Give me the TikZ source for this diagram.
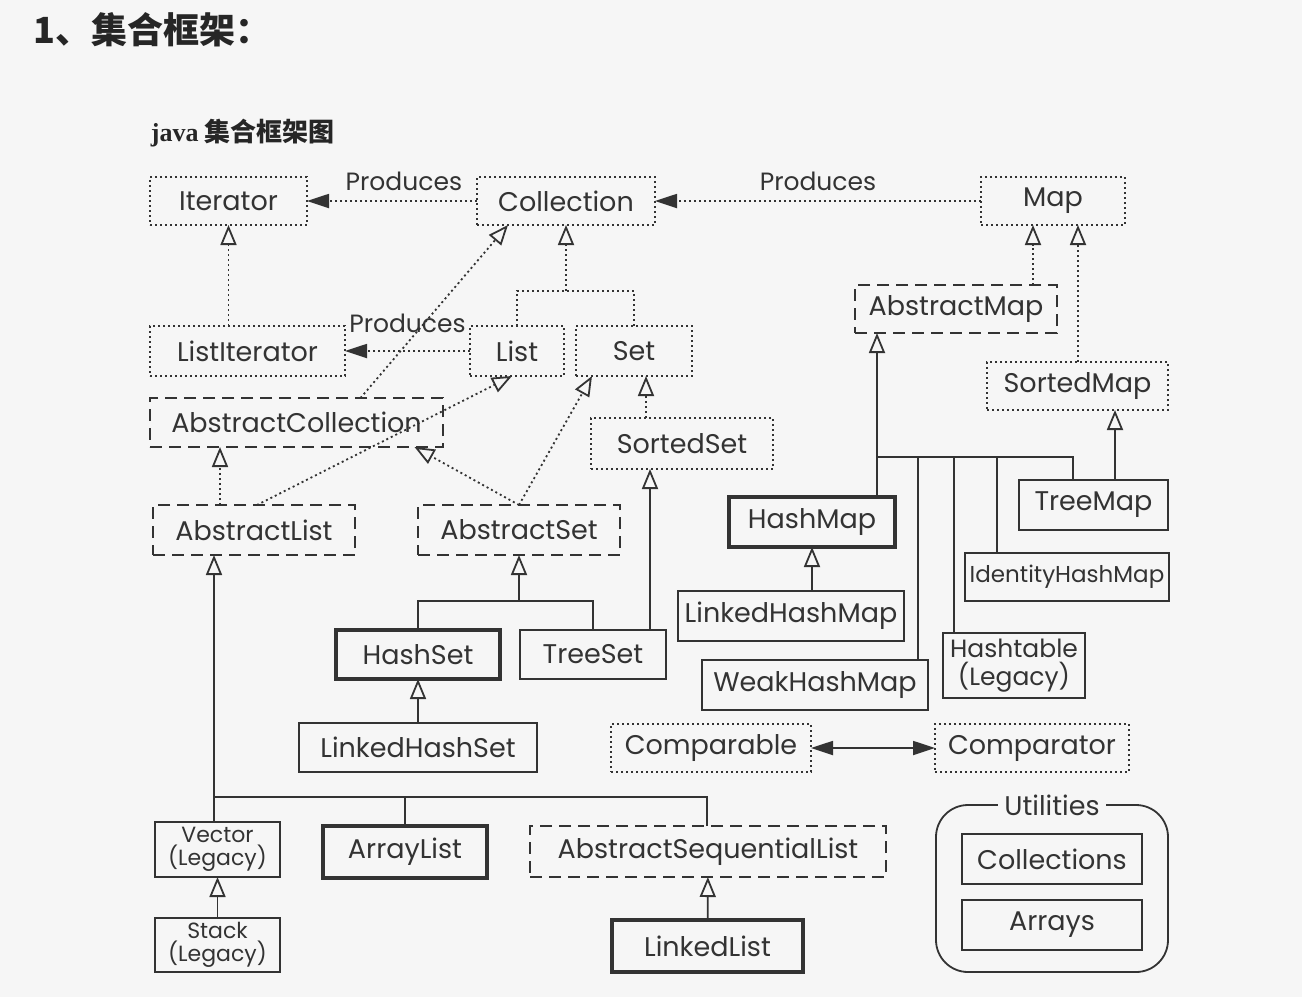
\documentclass[tikz,border=0pt]{standalone}
\usepackage{fontspec}
\setmainfont{Poppins}
\newfontfamily\cjkfont{Noto Sans CJK SC}
\newfontfamily\latinserif{Liberation Serif}
\usetikzlibrary{arrows.meta}
\definecolor{pagebg}{HTML}{F6F6F6}
\definecolor{ink}{HTML}{333333}

\tikzset{
  wh/.style 2 args={minimum width=#1pt, minimum height=#2pt},
  box/.style={draw=ink, text=ink, line width=1.8pt, inner sep=0pt, outer sep=0pt,
    font=\fontsize{27}{30}\selectfont, align=center},
  iface/.style={box, dash pattern=on 2pt off 3pt},
  abstr/.style={box, dash pattern=on 12pt off 7pt},
  concrete/.style={box},
  core/.style={box, line width=4.5pt},
  dots/.style={dash pattern=on 2pt off 3pt},
  inherits/.style={-{Triangle[open,length=20pt,width=16pt,line width=1.8pt]}},
  produces/.style={-{Triangle[length=22pt,width=14pt]}},
  pair/.style={{Triangle[length=22pt,width=14pt]}-{Triangle[length=22pt,width=14pt]}},
  lbl/.style={text=ink, font=\fontsize{25}{28}\selectfont, inner sep=0pt},
  legacy/.style={font=\fontsize{22}{23}\selectfont},
}

\begin{document}
\begin{tikzpicture}[x=1pt,y=-1pt,color=ink,line width=1.8pt]
  \fill[pagebg] (0,0) rectangle (1302,997);
  \useasboundingbox (0,0) rectangle (1302,997);

  \node[anchor=west,inner sep=0pt,text=black!85,
    font=\cjkfont\bfseries\fontsize{36}{40}\selectfont] (heading) at (33,30) {1、集合框架：};
  \node[anchor=west,inner sep=0pt,text=black!85,
    font=\cjkfont\bfseries\fontsize{26}{30}\selectfont] (caption) at (150,133)
    {{\latinserif\bfseries java} 集合框架图};

  % interfaces and classes
  \node[iface,wh={157}{48}] (iterator) at (228.5,201) {Iterator};
  \node[iface,wh={178}{48}] (collection) at (566,201) {Collection};
  \node[iface,wh={144}{48}] (map) at (1053,201) {Map};
  \node[iface,wh={195}{50}] (listiter) at (247.5,351) {ListIterator};
  \node[iface,wh={94}{50}] (list) at (517,351) {List};
  \node[iface,wh={116}{50}] (set) at (634,351) {Set};
  \node[abstr,wh={293}{49}] (abscoll) at (296.5,422.5) {AbstractCollection};
  \node[iface,wh={182}{51}] (sortedset) at (682,443.5) {SortedSet};
  \node[abstr,wh={202}{48}] (absmap) at (956,309) {AbstractMap};
  \node[iface,wh={181}{48}] (sortedmap) at (1077.5,386) {SortedMap};
  \node[abstr,wh={202}{50}] (abslist) at (254,530) {AbstractList};
  \node[abstr,wh={202}{50}] (absset) at (519,530) {AbstractSet};
  \node[core,wh={164}{49}] (hashset) at (418,654.5) {HashSet};
  \node[concrete,wh={146}{49}] (treeset) at (593,654.5) {TreeSet};
  \node[concrete,wh={238}{49}] (lhashset) at (418,747.5) {LinkedHashSet};
  \node[core,wh={166}{50}] (hashmap) at (812,522) {HashMap};
  \node[concrete,wh={149}{50}] (treemap) at (1093.5,505) {TreeMap};
  \node[concrete,wh={204}{48},font=\fontsize{23}{26}\selectfont] (idmap) at (1067,577) {IdentityHashMap};
  \node[concrete,wh={226}{50}] (lhashmap) at (791,616) {LinkedHashMap};
  \node[concrete,wh={226}{50}] (weakmap) at (815,685) {WeakHashMap};
  \node[concrete,wh={142}{65},font=\fontsize{25}{28}\selectfont] (hashtable) at (1014,665.5) {Hashtable\\(Legacy)};
  \node[iface,wh={200}{48}] (comparable) at (711,748) {Comparable};
  \node[iface,wh={194}{48}] (comparator) at (1032,748) {Comparator};
  \node[concrete,legacy,wh={125}{55}] (vector) at (217.5,849.5) {Vector\\(Legacy)};
  \node[core,wh={164}{52}] (arraylist) at (405,852) {ArrayList};
  \node[abstr,wh={356}{51}] (abseqlist) at (708,851.5) {AbstractSequentialList};
  \node[concrete,legacy,wh={125}{54}] (stack) at (217.5,945) {Stack\\(Legacy)};
  \node[core,wh={191}{52}] (linkedlist) at (707.5,946) {LinkedList};

  % utilities
  \node[concrete,rounded corners=32pt,wh={232}{167}] (utilities) at (1052,888.5) {};
  \node[concrete,wh={180}{50}] (collections) at (1052,859) {Collections};
  \node[concrete,wh={180}{50}] (arrays) at (1052,925) {Arrays};
  \node[lbl,fill=pagebg,inner xsep=6pt,font=\fontsize{27}{30}\selectfont] (utillbl) at (utilities.north) {Utilities};

  % produces
  \draw[dots,produces] (collection) -- (iterator) node[lbl,pos=0.43,above=9pt] {Produces};
  \draw[dots,produces] (map) -- (collection) node[lbl,midway,above=9pt] {Produces};
  \draw[dots,produces] (list) -- (listiter) node[lbl,midway,above=17pt] {Produces};
  \draw[pair] (comparable) -- (comparator);

  % collection side
  \draw[dots,inherits] (listiter.north -| iterator.south) -- (iterator.south);
  \coordinate (colljn) at ([yshift=-66pt]collection.south);
  \draw[dots] (list.north) |- (colljn) -| (set.north);
  \draw[dots,inherits] (colljn) -- (collection.south);
  \draw[dots,inherits] ([xshift=64pt]abscoll.north) -- ([xshift=-58pt]collection.south);
  \draw[dots,inherits] ([xshift=3pt]abslist.north) -- ([xshift=-5pt]list.south);
  \draw[dots,inherits] ([xshift=-34pt]abslist.north) -- ([xshift=-76.5pt]abscoll.south);
  \draw[dots,inherits] (absset.north) -- ([xshift=118pt]abscoll.south);
  \draw[dots,inherits] (absset.north) -- ([xshift=-42pt]set.south);
  \draw[dots,inherits] ([xshift=-36pt]sortedset.north) -- ([xshift=12pt]set.south);
  \draw[inherits] ([xshift=57pt]treeset.north) -- ([xshift=-32pt]sortedset.south);
  \coordinate (setjn) at ([yshift=-46pt]absset.south);
  \draw (hashset.north) |- (setjn) -| (treeset.north);
  \draw[inherits] (setjn) -- (absset.south);
  \draw[inherits] (lhashset) -- (hashset);

  % map side
  \draw[dots,inherits] ([xshift=77pt]absmap.north) -- ([xshift=-20pt]map.south);
  \draw[dots,inherits] ([xshift=0.5pt]sortedmap.north) -- ([xshift=25pt]map.south);
  \draw[inherits] ([xshift=21.5pt]treemap.north) -- ([xshift=37.5pt]sortedmap.south);
  \coordinate (mapjn) at ([xshift=65pt,yshift=40pt]hashmap.north);
  \draw[inherits] ([xshift=65pt]hashmap.north) -- ([xshift=-79pt]absmap.south);
  \foreach \sub/\dx in {weakmap/103,hashtable/-60,idmap/-70,treemap/-20.5}
    \draw ([xshift=\dx pt]\sub.north) |- (mapjn);
  \draw[inherits] ([xshift=21pt]lhashmap.north) -- (hashmap.south);

  % list side
  \coordinate (listjn) at ([xshift=-3.5pt,yshift=25pt]vector.north);
  \draw[inherits] ([xshift=-3.5pt]vector.north) -- ([xshift=-40pt]abslist.south);
  \draw (arraylist.north) |- (listjn);
  \draw ([xshift=-1pt]abseqlist.north) |- (listjn);
  \draw[inherits] (stack) -- (vector);
  \draw[inherits] (linkedlist) -- (abseqlist);
\end{tikzpicture}
\end{document}
